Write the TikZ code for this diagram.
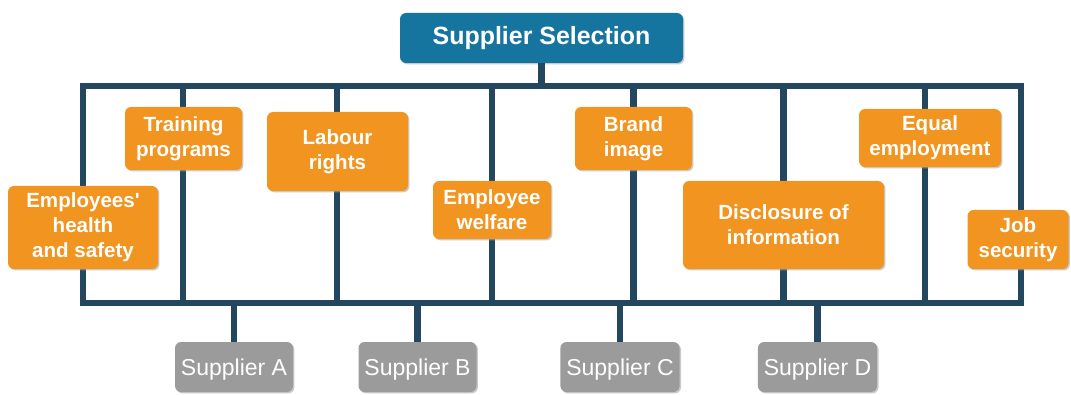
\documentclass[tikz,border=0pt]{standalone}
\usepackage{fontspec}
\setmainfont{Liberation Sans}[Ligatures=TeXOff]
\usetikzlibrary{positioning}
\usetikzlibrary{shadows}
\definecolor{titleblue}{HTML}{16759F}
\definecolor{critorange}{HTML}{F19420}
\definecolor{supgray}{HTML}{9B9B9B}
\definecolor{barblue}{HTML}{244760}
\tikzset{
    boxshadow/.style = {drop shadow={shadow xshift=0.8pt,shadow yshift=-0.8pt,fill=black!35,opacity=0.6}},
    mynodet/.style = {rectangle, rounded corners=3.5pt, fill=titleblue, text=white, align=center, boxshadow, font=\fontsize{14.2}{17}\selectfont\bfseries},
    mynodeo/.style = {rectangle, rounded corners=3.5pt, fill=critorange, text=white, align=center, inner sep=1pt, boxshadow, font=\fontsize{11.7}{14.2}\selectfont\bfseries},
    mynodeg/.style = {rectangle, rounded corners=3.5pt, fill=supgray, text=white, align=center, boxshadow, minimum width=2.36cm, minimum height=1.0cm, text depth=0pt, font=\fontsize{13.1}{15}\selectfont},
    edgen/.style = {line width=3.7pt, draw=barblue},
}
\begin{document}
\begin{tikzpicture}
\path[use as bounding box] (0,0) rectangle (21.42,7.88);
%
% frame of criteria columns
\foreach \n/\x in {a/1.66,b/3.66,c/6.74,d/9.84,e/12.67,f/15.67,g/18.5,h/20.42}{
  \coordinate (top\n) at (\x,6.16);
  \coordinate (bot\n) at (\x,1.82);
}
\draw[edgen] (topa) rectangle (both);
\foreach \n in {b,c,d,e,f,g}
  \draw[edgen] (top\n) -- (bot\n);
%
\node[mynodet,minimum width=5.66cm,minimum height=1.0cm] at (10.83,7.12) (sel) {Supplier Selection};
%
\node[mynodeo,minimum width=3.0cm,minimum height=1.66cm] at (1.66,3.33) (health) {Employees'\\health\\and safety};
\node[mynodeo,minimum width=2.34cm,minimum height=1.26cm] at (3.67,5.11) (train) {Training\\programs};
\node[mynodeo,minimum width=2.82cm,minimum height=1.58cm] at (6.75,4.85) (labour) {Labour\\rights};
\node[mynodeo,minimum width=2.36cm,minimum height=1.16cm] at (9.84,3.68) (welfare) {Employee\\welfare};
\node[mynodeo,minimum width=2.34cm,minimum height=1.26cm] at (12.67,5.11) (brand) {Brand\\image};
\node[mynodeo,minimum width=4.02cm,minimum height=1.76cm] at (15.67,3.38) (disc) {Disclosure of\\information};
\node[mynodeo,minimum width=2.84cm,minimum height=1.16cm] at (18.6,5.12) (equal) {Equal\\employment};
\node[mynodeo,minimum width=2.02cm,minimum height=1.18cm] at (20.36,3.09) (job) {Job\\security};
%
\node[mynodeg] at (4.68,0.54) (supa) {Supplier A};
\node[mynodeg] at (8.35,0.54) (supb) {Supplier B};
\node[mynodeg] at (12.4,0.54) (supc) {Supplier C};
\node[mynodeg] at (16.35,0.54) (supd) {Supplier D};
%
\draw[edgen] (sel.south) -- (sel.south |- topa);
\foreach \s in {supa,supb,supc,supd}
  \draw[edgen] (\s.north) -- (\s.north |- bota);

\end{tikzpicture}
\end{document}
